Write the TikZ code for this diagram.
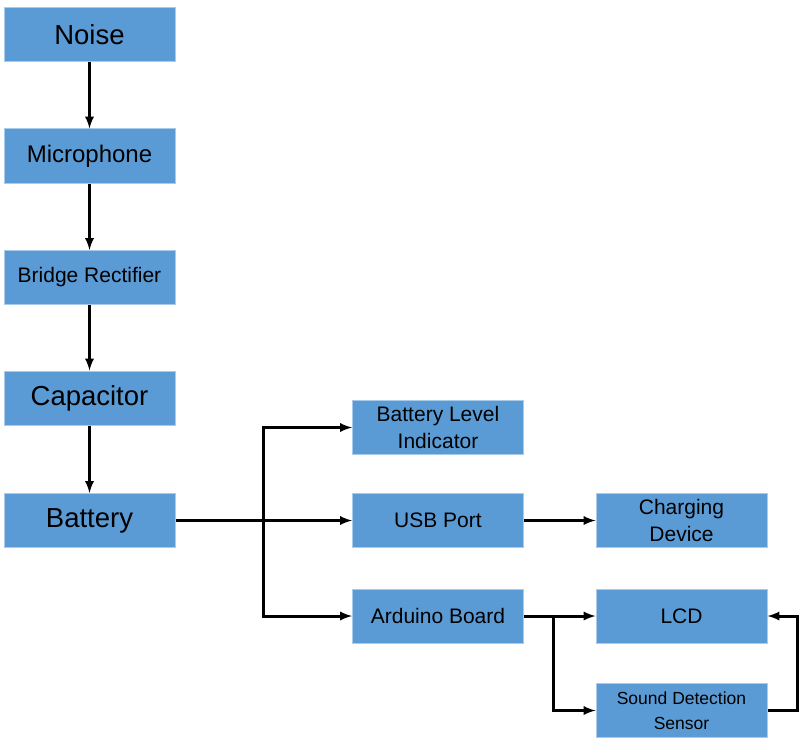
\documentclass[tikz,border=0pt]{standalone}
\usepackage{fontspec}
\setmainfont{Liberation Sans}

\definecolor{boxblue}{HTML}{5B9BD5}
\definecolor{boxedge}{HTML}{A9CBEA}

\tikzset{
  blk/.style={draw=boxedge,line width=1pt,fill=boxblue,minimum width=171pt,
    minimum height=54pt,inner sep=0pt,align=center,font=\fontsize{21}{27}\selectfont},
  big/.style={font=\fontsize{27.5}{32}\selectfont},
  link/.style={line width=3pt,-latex}
}

\begin{document}
\begin{tikzpicture}[x=1pt,y=-1pt]
\useasboundingbox (0,0) rectangle (800,749);

  \draw (89.5,35) node[blk,big] (noise) {Noise};
  \draw (89.5,156) node[blk,font=\fontsize{24}{28}\selectfont] (mic) {Microphone};
  \draw (89.5,277.5) node[blk] (bridge) {Bridge Rectifier};
  \draw (89.5,398) node[blk,big] (cap) {Capacitor};
  \draw (89.5,520.5) node[blk,big] (battery) {Battery};

  \draw (438,427.5) node[blk] (bli) {Battery Level\\Indicator};
  \draw (438,520.5) node[blk] (usb) {USB Port};
  \draw (438,616) node[blk] (arduino) {Arduino Board};

  \draw (681.5,520.5) node[blk] (charging) {Charging\\Device};
  \draw (681.5,616) node[blk] (lcd) {LCD};
  \draw (681.5,710.5) node[blk,font=\fontsize{17.5}{25}\selectfont] (sensor) {Sound Detection\\Sensor};

  \draw[link] (noise) -- (mic);
  \draw[link] (mic) -- (bridge);
  \draw[link] (bridge) -- (cap);
  \draw[link] (cap) -- (battery);

  \coordinate (split) at (263,520.5);
  \draw[link] (battery) -- (usb);
  \draw[link] (split) |- (bli);
  \draw[link] (split) |- (arduino);

  \draw[link] (usb) -- (charging);

  \coordinate (fork) at (553,616);
  \draw[link] (arduino) -- (lcd);
  \draw[link] (fork) |- (sensor);

  \coordinate (loop) at (797,710.5);
  \draw[link] (sensor.east) -- (loop) |- (lcd.east);

\end{tikzpicture}
\end{document}
